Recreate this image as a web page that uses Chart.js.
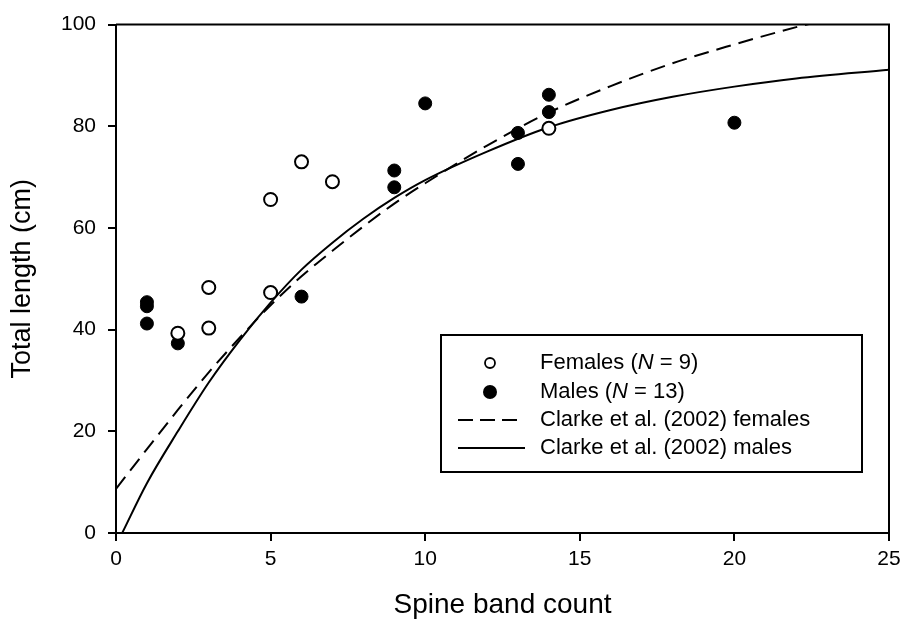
<!DOCTYPE html>
<html>
<head>
<meta charset="utf-8">
<script src="https://cdn.jsdelivr.net/npm/chart.js@4.4.1/dist/chart.umd.min.js"></script>
<style>
  html, body { margin: 0; padding: 0; background: #fff; }
  #wrap { width: 910px; height: 628px; position: relative; }
</style>
</head>
<body>
<div id="wrap"><canvas id="growthChart"></canvas></div>
<script>
// observed fish (spine band count vs total length)
const femaleBands = [2, 3, 3, 5, 5, 6, 7, 14];
const femaleLength = [39.3, 48.3, 40.3, 47.3, 65.6, 73.0, 69.1, 79.6];

const maleBands = [1, 1, 1, 2, 6, 9, 9, 10, 13, 13, 14, 14, 20];
const maleLength = [45.4, 44.6, 41.2, 37.3, 46.5, 71.3, 68.0, 84.5, 72.6, 78.7, 86.2, 82.8, 80.7];

// Clarke et al. (2002) growth curves
const femaleCurveX = [0, 1, 2, 3, 4, 5, 6, 7, 8, 9, 10, 12, 14, 16, 18, 20, 22, 23, 25];
const femaleCurveY = [8.7, 16.5, 24.2, 31.6, 38.4, 44.8, 50.5, 55.5, 60.3, 64.8, 68.8, 76.2, 82.7, 87.9, 92.4, 96.1, 99.5, 101, 104];

const maleCurveX = [0.2, 1, 2, 3, 4, 5, 6, 7, 8, 9, 10, 12, 14, 16, 18, 20, 22, 25];
const maleCurveY = [0, 9.8, 20, 29.6, 37.9, 45.3, 51.8, 57.1, 61.8, 65.9, 69.4, 75.0, 79.8, 83.2, 85.8, 87.8, 89.4, 91.1];

const legendLabels = [
    'Females (*N* = 9)',
    'Males (*N* = 13)',
    'Clarke et al. (2002) females',
    'Clarke et al. (2002) males'
];

const FONT = "'Liberation Sans', Arial, sans-serif";

function pairs(xs, ys) {
    return xs.map(function (x, i) { return { x: x, y: ys[i] }; });
}

// top + right border of the plot box
const frame = {
    id: 'frame',
    afterDatasetsDraw(chart) {
        const a = chart.chartArea;
        const ctx = chart.ctx;
        ctx.save();
        ctx.strokeStyle = '#000';
        ctx.lineWidth = 2;
        ctx.beginPath();
        ctx.moveTo(a.left, a.top);
        ctx.lineTo(a.right, a.top);
        ctx.lineTo(a.right, a.bottom);
        ctx.stroke();
        ctx.restore();
    }
};

// boxed legend inside the plot
const boxLegend = {
    id: 'boxLegend',
    afterDraw(chart) {
        const ctx = chart.ctx;
        const bx = 441, by = 335, bw = 421, bh = 137;
        const rowY = [363, 392, 420, 448];
        ctx.save();
        ctx.fillStyle = '#fff';
        ctx.fillRect(bx, by, bw, bh);
        ctx.strokeStyle = '#000';
        ctx.lineWidth = 2;
        ctx.strokeRect(bx, by, bw, bh);

        // markers
        ctx.lineWidth = 1.8;
        ctx.beginPath();
        ctx.arc(490, rowY[0], 5, 0, Math.PI * 2);
        ctx.stroke();

        ctx.fillStyle = '#000';
        ctx.beginPath();
        ctx.arc(490, rowY[1], 7, 0, Math.PI * 2);
        ctx.fill();

        ctx.lineWidth = 2;
        ctx.setLineDash([15, 7]);
        ctx.beginPath();
        ctx.moveTo(458, rowY[2]);
        ctx.lineTo(518, rowY[2]);
        ctx.stroke();
        ctx.setLineDash([]);
        ctx.beginPath();
        ctx.moveTo(458, rowY[3]);
        ctx.lineTo(525, rowY[3]);
        ctx.stroke();

        // labels, *...* is italic
        ctx.textBaseline = 'middle';
        ctx.textAlign = 'left';
        legendLabels.forEach(function (label, i) {
            let x = 540;
            label.split('*').forEach(function (part, j) {
                ctx.font = (j % 2 ? 'italic ' : '') + '22px ' + FONT;
                ctx.fillText(part, x, rowY[i]);
                x += ctx.measureText(part).width;
            });
        });
        ctx.restore();
    }
};

const ctx = document.getElementById('growthChart').getContext('2d');

new Chart(ctx, {
    type: 'scatter',
    data: {
        datasets: [
            {
                label: 'Females',
                data: pairs(femaleBands, femaleLength),
                pointRadius: 6.5,
                pointBackgroundColor: '#fff',
                pointBorderColor: '#000',
                pointBorderWidth: 2
            },
            {
                label: 'Males',
                data: pairs(maleBands, maleLength),
                pointRadius: 6.5,
                pointBackgroundColor: '#000',
                pointBorderColor: '#000',
                pointBorderWidth: 1
            },
            {
                label: 'Clarke et al. (2002) females',
                data: pairs(femaleCurveX, femaleCurveY),
                showLine: true,
                borderColor: '#000',
                borderWidth: 2,
                borderDash: [15, 8],
                pointRadius: 0,
                cubicInterpolationMode: 'monotone',
                clip: 0
            },
            {
                label: 'Clarke et al. (2002) males',
                data: pairs(maleCurveX, maleCurveY),
                showLine: true,
                borderColor: '#000',
                borderWidth: 2,
                pointRadius: 0,
                cubicInterpolationMode: 'monotone',
                clip: 0
            }
        ]
    },
    options: {
        responsive: true,
        maintainAspectRatio: false,
        animation: false,
        layout: {
            padding: { top: 17, right: 21, left: 0, bottom: 0 }
        },
        plugins: {
            legend: { display: false },
            tooltip: { enabled: false }
        },
        scales: {
            x: {
                type: 'linear',
                min: 0,
                max: 25,
                afterFit: function (scale) { scale.height = 95; },
                border: { color: '#000', width: 2 },
                grid: {
                    drawOnChartArea: false,
                    color: '#000',
                    lineWidth: 2,
                    tickLength: 8
                },
                ticks: {
                    stepSize: 5,
                    color: '#000',
                    padding: 6,
                    maxRotation: 0,
                    font: { family: FONT, size: 21 }
                },
                title: {
                    display: true,
                    text: 'Spine band count',
                    color: '#000',
                    padding: { top: 0, bottom: 6 },
                    font: { family: FONT, size: 28 }
                }
            },
            y: {
                min: 0,
                max: 100,
                afterFit: function (scale) { scale.width = 116; },
                border: { color: '#000', width: 2 },
                grid: {
                    drawOnChartArea: false,
                    color: '#000',
                    lineWidth: 2,
                    tickLength: 8
                },
                ticks: {
                    stepSize: 20,
                    color: '#000',
                    padding: 12,
                    font: { family: FONT, size: 21 }
                },
                title: {
                    display: true,
                    text: 'Total length (cm)',
                    color: '#000',
                    padding: { top: 6, bottom: 0 },
                    font: { family: FONT, size: 27 }
                }
            }
        }
    },
    plugins: [frame, boxLegend]
});
</script>
</body>
</html>
